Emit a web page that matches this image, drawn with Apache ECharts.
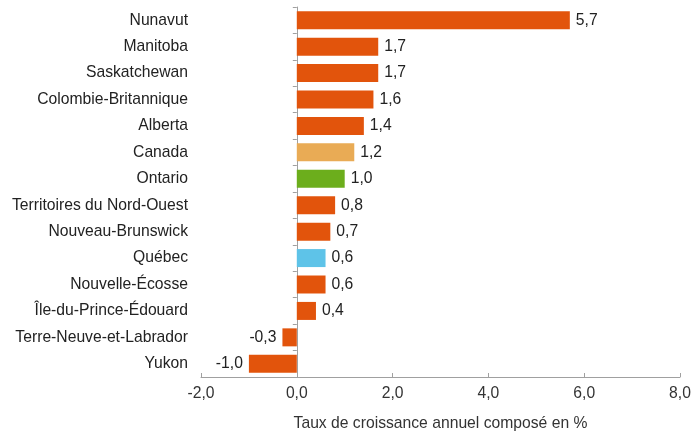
<!DOCTYPE html>
<html><head><meta charset="utf-8">
<script src="https://cdn.jsdelivr.net/npm/echarts@6/dist/echarts.min.js"></script>
<style>html,body{margin:0;padding:0;background:#fff}#c{width:692px;height:432px}</style>
</head><body><div id="c"></div>
<script>
const categories = ["Nunavut","Manitoba","Saskatchewan","Colombie-Britannique","Alberta","Canada","Ontario","Territoires du Nord-Ouest","Nouveau-Brunswick","Québec","Nouvelle-Écosse","Île-du-Prince-Édouard","Terre-Neuve-et-Labrador","Yukon"];
const values = [5.7,1.7,1.7,1.6,1.4,1.2,1.0,0.8,0.7,0.6,0.6,0.4,-0.3,-1.0];
const specialColors = {"Canada":"#E9AB55","Ontario":"#6CAE1C","Québec":"#5EC3E8"};
const baseColor = "#E2540C";
const axisTitle = "Taux de croissance annuel composé en %";
const fmt = v => v.toFixed(1).replace('.', ',');
const FONT = 'Liberation Sans, Arial, sans-serif';
const FS = 15.7;

const chart = echarts.init(document.getElementById('c'), null, {renderer:'canvas'});
chart.setOption({
  animation:false,
  grid:{left:201,right:12,top:7,bottom:55,containLabel:false,outerBoundsMode:'none'},
  xAxis:{type:'value',min:-2,max:8,interval:2,
    axisLine:{show:true,lineStyle:{color:'#a0a0a0',width:1}},
    axisTick:{show:true,inside:true,length:4,lineStyle:{color:'#a0a0a0'}},
    splitLine:{show:false},
    axisLabel:{formatter:fmt,fontFamily:FONT,fontSize:FS,color:'#333',margin:9},
    name:axisTitle,nameLocation:'middle',nameGap:39,
    nameTextStyle:{fontFamily:FONT,fontSize:FS,color:'#333'}
  },
  yAxis:{type:'category',data:categories,inverse:true,
    axisLine:{show:true,onZero:true,lineStyle:{color:'#a0a0a0'}},
    axisTick:{show:true,length:4,lineStyle:{color:'#a0a0a0'}},
    axisLabel:{margin:13,fontFamily:FONT,fontSize:FS,color:'#222'}
  },
  series:[{type:'bar',barWidth:18,
    data:values.map((v,i)=>({value:v,
      itemStyle:{color:specialColors[categories[i]]||baseColor},
      label:{position:v<0?'left':'right'}})),
    label:{show:true,formatter:p=>fmt(p.value),distance:6,
      fontFamily:FONT,fontSize:FS,color:'#222'}
  }]
});
</script></body></html>
